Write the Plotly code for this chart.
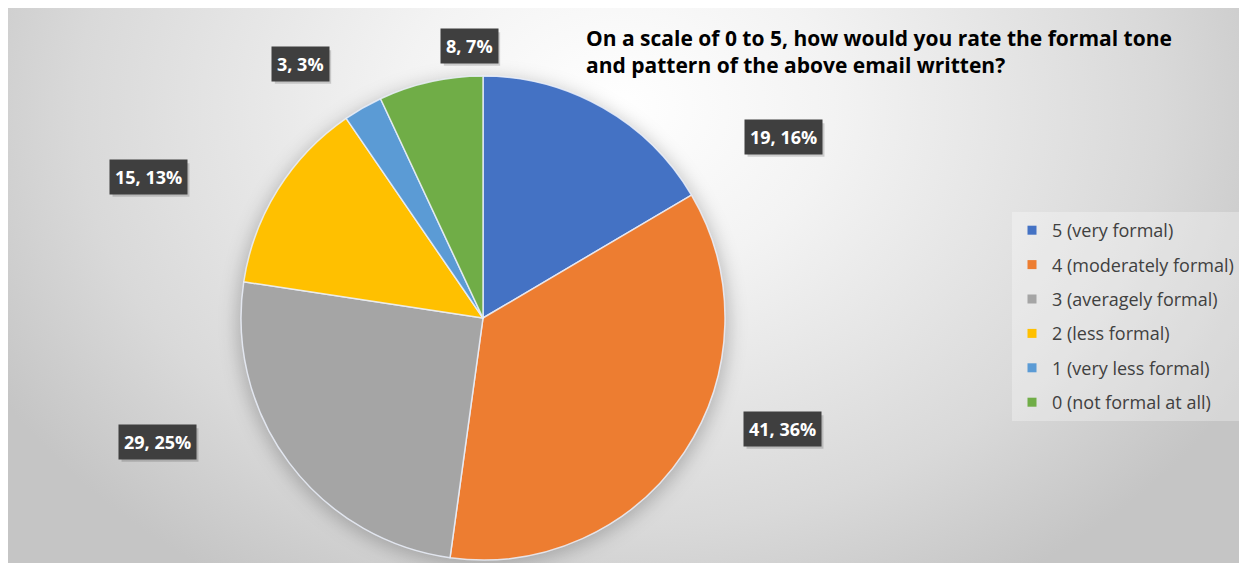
import base64
import plotly.graph_objects as go

# Survey responses: rating of the formal tone of the email
categories = ["5 (very formal)", "4 (moderately formal)", "3 (averagely formal)",
              "2 (less formal)", "1 (very less formal)", "0 (not formal at all)"]
counts = [19, 41, 29, 15, 3, 8]
percent_labels = ["16%", "36%", "25%", "13%", "3%", "7%"]
colors = ["#4472C4", "#ED7D31", "#A5A5A5", "#FFC000", "#5B9BD5", "#70AD47"]

# Label box centres (page pixels) for each slice
label_px = [(783, 137), (782, 429), (157, 442), (148, 177), (300, 64), (469, 46)]

W, H = 1239, 563
CX, CY, R = 483, 318, 242
OFF = 8  # white strip at top/left of the chart frame
LABEL_SIZE = 18
LABEL_PAD = 5


def px_x(x):
    return x / W


def px_y(y):
    return 1 - y / H


def text_width(s, size):
    # rough advance widths for Open Sans Bold
    em = {"%": 0.88, ",": 0.29, " ": 0.26}
    return sum(em.get(c, 0.572) for c in s) * size


# Soft radial background with a faint halo behind the pie
bw, bh = W - OFF, H - OFF
svg = f'''<svg xmlns="http://www.w3.org/2000/svg" width="{bw}" height="{bh}" viewBox="0 0 {bw} {bh}" preserveAspectRatio="none">
<defs>
<radialGradient id="g" gradientUnits="userSpaceOnUse" cx="610" cy="100" r="720" gradientTransform="translate(610 100) scale(1 0.78) translate(-610 -100)">
<stop offset="0" stop-color="#ffffff"/>
<stop offset="0.3" stop-color="#f3f3f3"/>
<stop offset="0.75" stop-color="#d9d9d9"/>
<stop offset="1" stop-color="#c5c5c5"/>
</radialGradient>
<filter id="b" x="-20%" y="-20%" width="140%" height="140%"><feGaussianBlur stdDeviation="9"/></filter>
</defs>
<rect x="0" y="0" width="{bw}" height="{bh}" fill="url(#g)"/>
<ellipse cx="{CX - OFF}" cy="{CY - OFF + 4}" rx="{R + 4}" ry="{R + 2}" fill="rgba(0,0,0,0.22)" filter="url(#b)"/>
</svg>'''
bg_src = "data:image/svg+xml;base64," + base64.b64encode(svg.encode()).decode()

fig = go.Figure()

fig.add_trace(go.Pie(
    labels=categories,
    values=counts,
    marker=dict(colors=colors, line=dict(color="rgba(235,240,250,0.85)", width=1.5)),
    sort=False,
    direction="clockwise",
    rotation=0,
    textinfo="none",
    hoverinfo="label+value+percent",
    showlegend=False,
    domain=dict(x=[px_x(CX - R), px_x(CX + R)], y=[px_y(CY + R), px_y(CY - R)]),
))

# Legend entries
for name, col in zip(categories, colors):
    fig.add_trace(go.Scatter(
        x=[None], y=[None], mode="markers", name=name,
        marker=dict(symbol="square", size=9, color=col),
        legendgroup=name, showlegend=True, hoverinfo="skip",
    ))

annotations = []
shapes = []
# Data labels: dark boxes with a soft drop shadow
for (lx, ly), n, p in zip(label_px, counts, percent_labels):
    txt = f"{n}, {p}"
    half_w = text_width(txt, LABEL_SIZE) / 2 + LABEL_PAD
    half_h = 0.65 * LABEL_SIZE + LABEL_PAD
    shapes.append(dict(
        type="rect", xref="paper", yref="paper", layer="above",
        x0=px_x(lx - half_w + 3), x1=px_x(lx + half_w + 3),
        y0=px_y(ly + half_h + 3), y1=px_y(ly - half_h + 3),
        fillcolor="rgba(0,0,0,0.16)", line=dict(width=0),
    ))
    annotations.append(dict(
        x=px_x(lx), y=px_y(ly), xref="paper", yref="paper",
        xanchor="center", yanchor="middle", text=f"<b>{txt}</b>",
        showarrow=False, font=dict(family="Open Sans", size=LABEL_SIZE, color="white"),
        bgcolor="#3f3f3f", borderpad=LABEL_PAD,
    ))

annotations.append(dict(
    x=px_x(584), y=px_y(22), xref="paper", yref="paper", xanchor="left", yanchor="top",
    text="<b>On a scale of 0 to 5, how would you rate the formal tone<br>and pattern of the above email written?</b>",
    align="left", showarrow=False,
    font=dict(family="Open Sans", size=21, color="#000000"),
))

fig.update_layout(
    width=W, height=H,
    margin=dict(l=0, r=0, t=0, b=0),
    paper_bgcolor="white",
    plot_bgcolor="rgba(0,0,0,0)",
    xaxis=dict(visible=False),
    yaxis=dict(visible=False),
    images=[dict(source=bg_src, xref="paper", yref="paper", x=px_x(OFF), y=px_y(OFF),
                 sizex=bw / W, sizey=bh / H, xanchor="left", yanchor="top",
                 sizing="stretch", layer="below")],
    shapes=shapes,
    legend=dict(
        x=px_x(1012), y=px_y(212), xanchor="left", yanchor="top",
        bgcolor="rgba(255,255,255,0.3)",
        font=dict(family="Open Sans", size=18, color="#404040"),
        tracegroupgap=8, traceorder="grouped", itemwidth=30,
    ),
    annotations=annotations,
)

fig.write_html("out.html")
